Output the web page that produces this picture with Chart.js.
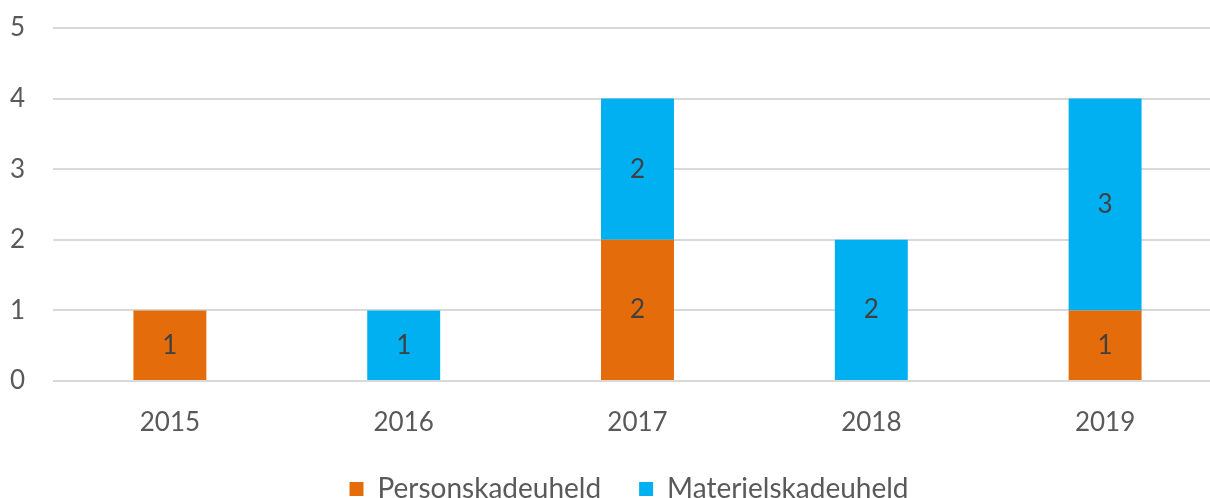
<!DOCTYPE html>
<html>
<head>
    <title>Uheld 2015-2019</title>
    <script src="https://cdn.jsdelivr.net/npm/chart.js"></script>
    <style>
        html, body { margin: 0; padding: 0; overflow: hidden; background: #fff; }
        #wrap { width: 1222px; height: 498px; }
    </style>
</head>
<body>
    <div id="wrap"><canvas id="myChart"></canvas></div>

    <script>
        var years = ['2015', '2016', '2017', '2018', '2019'];
        var personskade = [1, 0, 2, 0, 1];
        var materielskade = [0, 1, 2, 2, 3];
        var yTicks = [0, 1, 2, 3, 4, 5];

        var textColor = '#595959';
        var fontFamily = 'Lato, "Liberation Sans", sans-serif';

        // simple value labels in the middle of each bar segment
        var barLabels = {
            id: 'barLabels',
            afterDatasetsDraw: function (chart) {
                var ctx = chart.ctx;
                ctx.save();
                ctx.font = '26px ' + fontFamily;
                ctx.fillStyle = '#404040';
                ctx.textAlign = 'center';
                ctx.textBaseline = 'middle';
                chart.data.datasets.forEach(function (ds, i) {
                    chart.getDatasetMeta(i).data.forEach(function (bar, j) {
                        var v = ds.data[j];
                        if (!v) return;
                        ctx.fillText(String(v), bar.x, (bar.y + bar.base) / 2);
                    });
                });
                ctx.restore();
            }
        };

        // the legend sits a little right of the canvas centre in the original
        var legendShift = {
            id: 'legendShift',
            afterLayout: function (chart) {
                chart.legend.left += 18;
                chart.legend.right += 18;
            }
        };

        var ctx = document.getElementById('myChart').getContext('2d');
        var myChart = new Chart(ctx, {
            type: 'bar',
            data: {
                labels: years,
                datasets: [
                    { label: 'Personskadeuheld', data: personskade, backgroundColor: '#E46C0A' },
                    { label: 'Materielskadeuheld', data: materielskade, backgroundColor: '#00B0F0' }
                ]
            },
            options: {
                responsive: true,
                maintainAspectRatio: false,
                animation: false,
                categoryPercentage: 1,
                barPercentage: 0.312,
                layout: { padding: { top: 28, left: 0, right: 0, bottom: -15 } },
                plugins: {
                    tooltip: { enabled: false },
                    legend: {
                        position: 'bottom',
                        labels: {
                            color: textColor,
                            font: { size: 28, family: fontFamily },
                            boxWidth: 14,
                            boxHeight: 14,
                            padding: 38
                        }
                    }
                },
                scales: {
                    x: {
                        stacked: true,
                        grid: { display: false },
                        border: { display: false },
                        afterFit: function (scale) { scale.height = 56; },
                        ticks: { color: textColor, font: { size: 26, family: fontFamily }, padding: 18 }
                    },
                    y: {
                        stacked: true,
                        min: 0,
                        max: 5,
                        afterBuildTicks: function (scale) {
                            scale.ticks = yTicks.map(function (v) { return { value: v }; });
                        },
                        afterFit: function (scale) {
                            scale.width = 53;
                            scale.paddingTop = 0;
                            scale.paddingBottom = 0;
                        },
                        grid: { color: '#D9D9D9', lineWidth: 2, drawTicks: false },
                        border: { display: false },
                        ticks: { color: textColor, font: { size: 26, family: fontFamily }, padding: 28 }
                    }
                }
            },
            plugins: [barLabels, legendShift]
        });
    </script>
</body>
</html>
